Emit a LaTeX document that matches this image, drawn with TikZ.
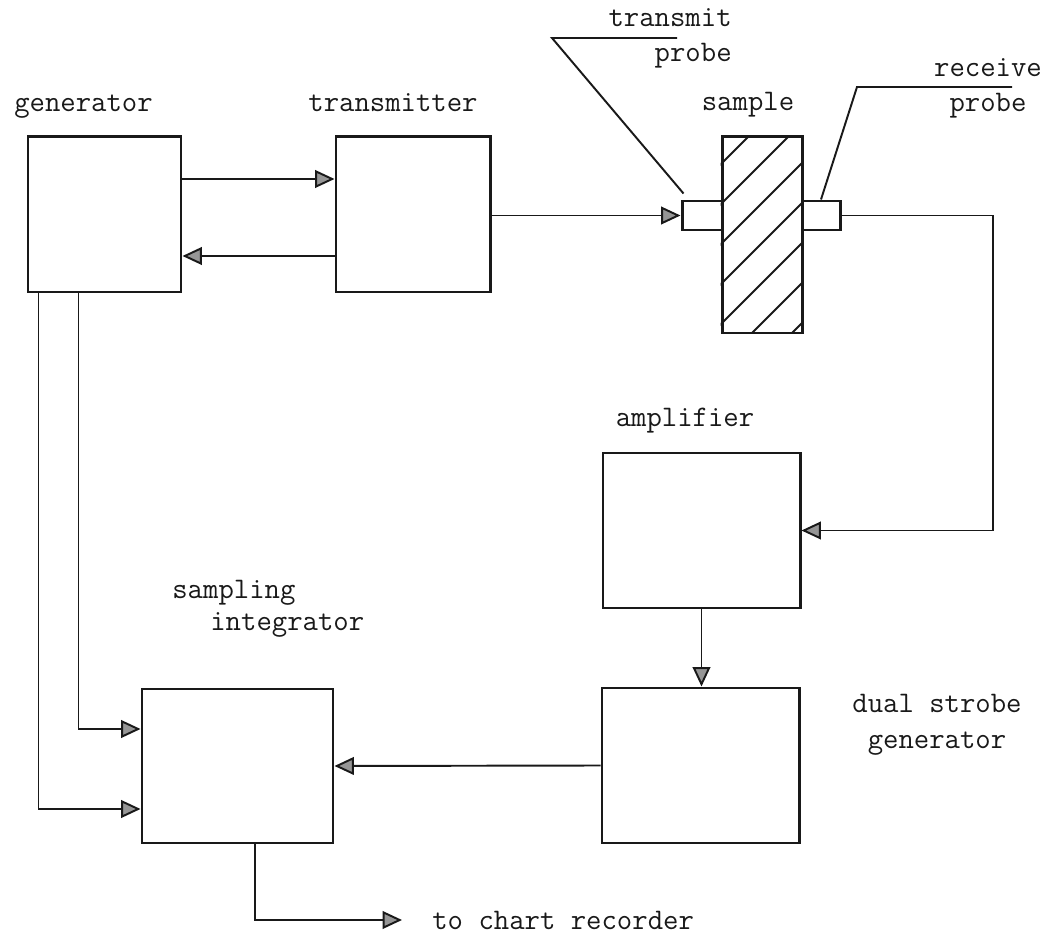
\documentclass[tikz,border=0pt]{standalone}
\usepackage{fontspec}
\usepackage{tikz}
\usetikzlibrary{arrows.meta}
\definecolor{scanink}{RGB}{25,25,25}
\definecolor{tipgrey}{RGB}{150,150,150}

\begin{document}
\begin{tikzpicture}[x=0.2mm,y=-0.2mm,
  blk/.style={draw=scanink,line width=1.7pt,inner sep=0pt},
  flow/.style={draw=scanink,line width=1.1pt,-{Triangle[length=11pt,width=10pt,fill=tipgrey]}},
  lead/.style={draw=scanink,line width=1.1pt},
  lbl/.style={font=\fontsize{17}{20}\selectfont\ttfamily,inner sep=0pt,text=scanink}]
  \useasboundingbox (0,0) rectangle (1052,937);

  % blocks
  \node[blk,minimum width=30.6mm,minimum height=31mm] (gen) at (104.5,214.5) {};
  \node[blk,minimum width=30.8mm,minimum height=31mm] (tx) at (413,214.5) {};
  \node[blk,minimum width=16mm,minimum height=39.2mm] (smp) at (762,235) {};
  \node[blk,minimum width=8mm,minimum height=5.8mm] (tp) at (702,215.5) {};
  \node[blk,minimum width=7.6mm,minimum height=5.8mm] (rp) at (821,215.5) {};
  \node[blk,minimum width=39.4mm,minimum height=31mm] (amp) at (701.5,530.5) {};
  \node[blk,minimum width=39.4mm,minimum height=31mm] (dsg) at (700.5,765.5) {};
  \node[blk,minimum width=38.2mm,minimum height=30.8mm] (sint) at (237.5,766) {};

  % hatching of the sample
  \begin{scope}
    \clip (smp.south west) rectangle (smp.north east);
    \foreach \c in {885,925,...,1125}
      \draw[lead] (\c-333,333) -- (\c-137,137);
  \end{scope}

  % labels
  \node[lbl,anchor=base] (lgen) at (83.5,112) {generator};
  \node[lbl,anchor=base] (ltx) at (393,112) {transmitter};
  \node[lbl,anchor=base] (lsmp) at (748,111) {sample};
  \node[lbl,anchor=base east,align=right] (ltp) at (732,62) {transmit\\probe};
  \node[lbl,anchor=base,align=center] (lrp) at (988,112) {receive\\probe};
  \node[lbl,anchor=base] (lamp) at (685,427) {amplifier};
  \node[lbl,anchor=base,align=center] (ldsg) at (937,748) {dual strobe\\generator};
  \node[lbl,anchor=base west] (lsam) at (172,598) {sampling};
  \node[lbl,anchor=base west] (lint) at (210,630) {integrator};
  \node[lbl,anchor=west,inner xsep=6mm] (chart) at (402,920) {to chart recorder};

  % leaders to the probes
  \coordinate (tpk) at (552,38); \coordinate (tpe) at (677,38);
  \coordinate (rpk) at (857,87); \coordinate (rpe) at (1012,87);
  \draw[lead] ([xshift=0.6mm,yshift=1.2mm]tp.north west) -- (tpk) -- (tpe);
  \draw[lead] (rp.north) -- (rpk) -- (rpe);

  % signal paths
  \draw[flow] ([yshift=7.1mm]gen.east) -- ([yshift=7.1mm]tx.west);
  \draw[flow] ([yshift=-8.3mm]tx.west) -- ([yshift=-8.3mm]gen.east);
  \draw[flow] (tx.east |- tp.west) -- (tp.west);
  \coordinate (rbend) at (993,400);
  \draw[flow] (rp.east) -| (rbend) |- (amp.east);
  \draw[flow] (amp.south) -- (amp.south |- dsg.north);
  \draw[flow] (dsg.west) -- (sint.east);
  \draw[flow] ([xshift=10.4mm]gen.south west) |- ([yshift=7.4mm]sint.west);
  \draw[flow] ([xshift=2.4mm]gen.south west) |- ([yshift=-8.6mm]sint.west);
  \draw[flow] ([xshift=3.5mm]sint.south) |- (chart.west);
\end{tikzpicture}
\end{document}
